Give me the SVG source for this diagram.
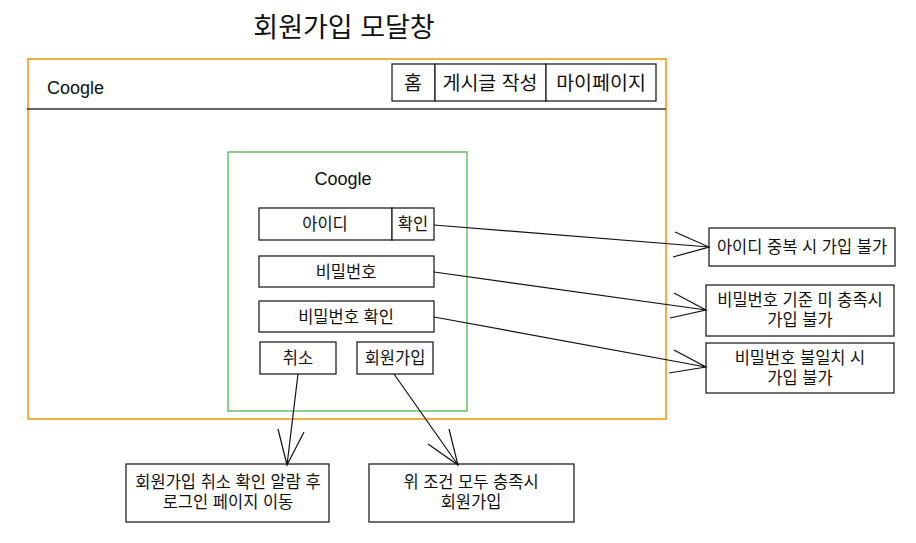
<svg xmlns="http://www.w3.org/2000/svg" width="916" height="543" viewBox="0 0 916 543">
<style>
text{font-family:"Liberation Sans","Noto Sans CJK KR",sans-serif;fill:#111;text-anchor:middle}
.b{fill:#fff;stroke:#222;stroke-width:1.3}
.t{font-size:16.5px}
.n{font-size:19.5px}
.e{font-size:18px}
.c{fill:none;stroke:#111;stroke-width:1.2}
</style>
<rect width="916" height="543" fill="#fff"/>
<text x="344" y="37" style="font-size:27px">회원가입 모달창</text>
<g id="frame">
<rect x="28" y="59" width="638" height="360" fill="none" stroke="#f5b041" stroke-width="2"/>
<line x1="27" y1="109" x2="666" y2="109" stroke="#333" stroke-width="1.6"/>
<text class="e" x="47" y="94" style="text-anchor:start">Coogle</text>
</g>
<g id="nav-home"><rect class="b" x="392" y="64" width="43" height="37"/><text class="n" x="413" y="90">홈</text></g>
<g id="nav-write"><rect class="b" x="435" y="64" width="111" height="37"/><text class="n" x="490" y="90">게시글 작성</text></g>
<g id="nav-mypage"><rect class="b" x="546" y="64" width="110" height="37"/><text class="n" x="601" y="90">마이페이지</text></g>
<g id="modal">
<rect x="228" y="152" width="239" height="259" fill="none" stroke="#6abf69" stroke-width="1.5"/>
<text class="e" x="343" y="185">Coogle</text>
</g>
<g id="id"><rect class="b" x="259" y="208" width="133" height="32"/><text class="t" x="325" y="230">아이디</text></g>
<g id="id-check"><rect class="b" x="392" y="208" width="42" height="32"/><text class="t" x="413" y="230">확인</text></g>
<g id="pw"><rect class="b" x="259" y="256" width="175" height="31"/><text class="t" x="346" y="278">비밀번호</text></g>
<g id="pw-confirm"><rect class="b" x="259" y="301" width="175" height="31"/><text class="t" x="346" y="323">비밀번호 확인</text></g>
<g id="cancel"><rect class="b" x="260" y="342" width="76" height="32"/><text class="t" x="298" y="364">취소</text></g>
<g id="join"><rect class="b" x="357" y="342" width="76" height="32"/><text class="t" x="395" y="364">회원가입</text></g>
<g id="r1"><rect class="b" x="709" y="228" width="186" height="38"/><text class="t" x="802" y="253">아이디 중복 시 가입 불가</text></g>
<g id="r2"><rect class="b" x="706" y="285" width="188" height="51"/><text class="t" x="800" y="306">비밀번호 기준 미 충족시</text><text class="t" x="800" y="326">가입 불가</text></g>
<g id="r3"><rect class="b" x="706" y="343" width="188" height="50"/><text class="t" x="800" y="364">비밀번호 불일치 시</text><text class="t" x="800" y="384">가입 불가</text></g>
<g id="b1"><rect class="b" x="126" y="464" width="203" height="58"/><text class="t" x="228" y="488">회원가입 취소 확인 알람 후</text><text class="t" x="228" y="508">로그인 페이지 이동</text></g>
<g id="b2"><rect class="b" x="369" y="464" width="205" height="58"/><text class="t" x="471" y="488">위 조건 모두 충족시</text><text class="t" x="471" y="508">회원가입</text></g>
<g id="connectors">
<path class="c" d="M434 225L709 247M675 232L709 247L673 257"/>
<path class="c" d="M434 272L706 310M674 293L706 310L670 318"/>
<path class="c" d="M434 317L706 367M674 350L706 367L669 373"/>
<path class="c" d="M298 374L287 465M278 429L287 465L304 432"/>
<path class="c" d="M394 374L458 465M428 444L458 465L449 429"/>
</g>
</svg>
